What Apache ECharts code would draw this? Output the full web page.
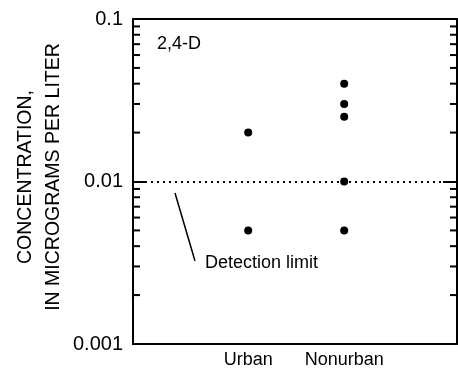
<!DOCTYPE html>
<html>
<head>
<meta charset="utf-8">
<script src="https://cdn.jsdelivr.net/npm/echarts@6/dist/echarts.min.js"></script>
<style>
html,body{margin:0;padding:0;background:#fff;}
#c{width:458px;height:373px;}
</style>
</head>
<body>
<div id="c"></div>
<script>
// ---- data ----
const categories = ['Urban', 'Nonurban'];
const categoryPos = [0, 1];
const urbanValues = [0.02, 0.005];
const nonurbanValues = [0.04, 0.03, 0.025, 0.01, 0.005];
const detectionLimit = 0.01;
const yTickValues = [0.001, 0.01, 0.1];
const yMinorTickValues = [0.002,0.003,0.004,0.005,0.006,0.007,0.008,0.009,
                          0.02,0.03,0.04,0.05,0.06,0.07,0.08,0.09];
const compoundLabel = '2,4-D';
const yTitle = 'CONCENTRATION,\nIN MICROGRAMS PER LITER';

const FONT = '"Liberation Sans", Arial, Helvetica, sans-serif';
const X_MIN = -1.2, X_MAX = 2.175;

const chart = echarts.init(document.getElementById('c'), null, {renderer: 'canvas'});

const pts = [];
urbanValues.forEach(v => pts.push([categoryPos[0], v]));
nonurbanValues.forEach(v => pts.push([categoryPos[1], v]));

const yAxisCommon = {
  type: 'log', min: 0.001, max: 0.1, logBase: 10,
  axisLine: {show: true, onZero: false, lineStyle: {color: '#000', width: 2}},
  axisTick: {show: true, inside: true, length: 14, lineStyle: {color: '#000', width: 2}},
  splitLine: {show: false},
  minorTick: {show: false}
};

const option = {
  animation: false,
  backgroundColor: '#fff',
  grid: {left: 133, top: 19, right: 1, bottom: 29, containLabel: false},
  xAxis: [{
    type: 'value', min: X_MIN, max: X_MAX, position: 'bottom',
    axisLine: {show: true, onZero: false, lineStyle: {color: '#000', width: 2}},
    axisTick: {show: false},
    splitLine: {show: false},
    axisLabel: {
      show: true, customValues: categoryPos, margin: 7,
      color: '#000', fontFamily: FONT, fontSize: 18,
      formatter: v => { const i = categoryPos.indexOf(Math.round(v)); return i >= 0 ? categories[i] : ''; }
    }
  }, {
    type: 'value', min: X_MIN, max: X_MAX, position: 'top',
    axisLine: {show: true, onZero: false, lineStyle: {color: '#000', width: 2}},
    axisTick: {show: false}, axisLabel: {show: false}, splitLine: {show: false}
  }],
  yAxis: [Object.assign({}, yAxisCommon, {
    position: 'left',
    axisLabel: {show: true, color: '#000', fontFamily: FONT, fontSize: 20, margin: 10,
      formatter: v => { const r = yTickValues.find(t => Math.abs(t - v) / t < 1e-6); return r === undefined ? '' : String(r); }}
  }), Object.assign({}, yAxisCommon, {
    position: 'right', axisLabel: {show: false}
  })],
  series: [{
    type: 'scatter',
    xAxisIndex: 0, yAxisIndex: 0,
    data: pts,
    symbol: 'circle', symbolSize: 8,
    itemStyle: {color: '#000', opacity: 1},
    z: 5,
    markLine: {
      silent: true, symbol: 'none', label: {show: false},
      lineStyle: {color: '#000', width: 2, type: [2, 4], opacity: 1},
      data: [{yAxis: detectionLimit}]
    }
  }, {
    type: 'custom',
    xAxisIndex: 0, yAxisIndex: 0,
    data: yMinorTickValues.map(v => [X_MIN, v]),
    silent: true,
    renderItem: function (params, api) {
      const cs = params.coordSys;
      const p = api.coord([X_MIN, api.value(1)]);
      const xl = cs.x, xr = cs.x + cs.width;
      const st = {stroke: '#000', lineWidth: 2};
      return {type: 'group', children: [
        {type: 'line', shape: {x1: xl, y1: p[1], x2: xl + 7, y2: p[1]}, style: st},
        {type: 'line', shape: {x1: xr - 7, y1: p[1], x2: xr, y2: p[1]}, style: st}
      ]};
    },
    clip: false,
    z: 3
  }],
  graphic: [{
    type: 'text', left: 157, top: 35,
    style: {text: compoundLabel, fill: '#000', font: '18px ' + FONT}
  }, {
    type: 'text', x: 40, y: 177, rotation: Math.PI / 2,
    style: {text: yTitle, fill: '#000', font: '19.5px ' + FONT, align: 'center', verticalAlign: 'middle', lineHeight: 28}
  }, {
    type: 'line', shape: {x1: 175, y1: 193, x2: 195, y2: 261},
    style: {stroke: '#000', lineWidth: 1.5}
  }, {
    type: 'text', x: 205, y: 263,
    style: {text: 'Detection limit', fill: '#000', font: '18px ' + FONT, align: 'left', verticalAlign: 'middle'}
  }]
};
chart.setOption(option);
</script>
</body>
</html>
